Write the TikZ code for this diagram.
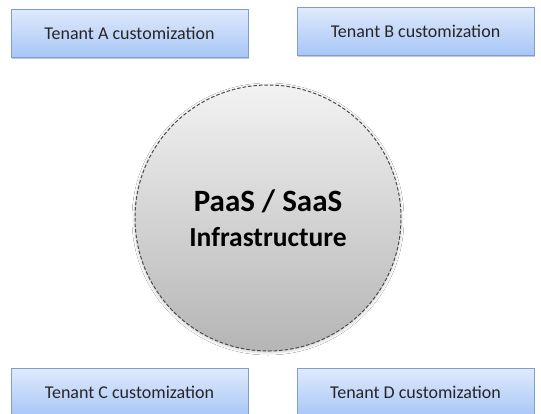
\documentclass[tikz,border=0pt]{standalone}
\usepackage{fontspec}
\setmainfont{Carlito}
\usetikzlibrary{shadows,shadows.blur}
\definecolor{boxtop}{HTML}{E0EAFC}
\definecolor{boxbot}{HTML}{A8C6F6}
\definecolor{boxline}{HTML}{7E9ED2}
\definecolor{textc}{HTML}{262626}
\tikzset{
  tenant/.style={draw=boxline, line width=0.9pt, top color=boxtop, bottom color=boxbot,
    minimum width=237pt, minimum height=48pt, inner sep=0pt, font=\fontsize{18}{21}\selectfont, text=textc,
    drop shadow={shadow xshift=0.6pt, shadow yshift=-1.5pt, opacity=0.35, fill=black!60}},
  infrashadow/.style={circle, fill=black!25, minimum size=264pt, inner sep=0pt,
    blur shadow={shadow xshift=0pt, shadow yshift=-1pt, shadow blur radius=4pt, shadow opacity=35}},
  infra/.style={circle, draw=black!70, dash pattern=on 3.5pt off 2pt, line width=1pt,
    top color=black!5, bottom color=black!29, minimum size=266pt, inner sep=0pt,
    align=center, text=black, font=\fontsize{31}{35}\selectfont\bfseries}
}
\begin{document}
\begin{tikzpicture}[x=1pt,y=-1pt]
\useasboundingbox[fill=white] (0,0) rectangle (541,413);
\node[tenant] (a) at (129.5,33) {Tenant A customization};
\node[tenant] (b) at (415.5,31) {Tenant B customization};
\node[tenant] (c) at (129.5,392) {Tenant C customization};
\node[tenant] (d) at (415.5,392) {Tenant D customization};
\node[infrashadow] (ps) at (268,218) {};
\node[infra] (p) at (268,218) {PaaS / SaaS\\{\fontsize{27.5}{35}\selectfont Infrastructure}};
\end{tikzpicture}
\end{document}
